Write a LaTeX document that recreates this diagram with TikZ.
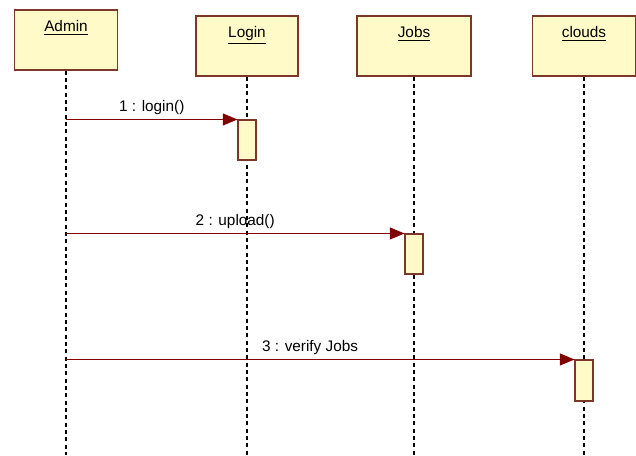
\documentclass[tikz,border=0pt]{standalone}
\usepackage{fontspec}
\setmainfont{Liberation Sans}
\usepackage{tikz}
\usetikzlibrary{arrows.meta,positioning}

\definecolor{umlfill}{RGB}{255,250,200}
\definecolor{umledge}{RGB}{125,55,40}
\definecolor{msgred}{RGB}{128,0,0}

\begin{document}
\begin{tikzpicture}[
  x=0.75pt, y=-0.75pt,
  >={Triangle[length=11pt,width=9pt]},
  every node/.style={font=\fontsize{11.5}{13}\selectfont},
  object/.style={draw=umledge, line width=1pt, fill=umlfill, minimum height=45pt, inner sep=0pt,
    label={[anchor=north, yshift=-5pt]north:\underline{#1}}},
  activation/.style={draw=umledge, line width=.8pt, fill=umlfill, minimum width=13.5pt, inner sep=0pt},
  lifeline/.style={line width=.8pt, dash pattern=on 3pt off 2.5pt},
  msg/.style={->, draw=msgred, fill=msgred, line width=.9pt}
]
\useasboundingbox (0,0) rectangle (636,455);

% objects
\node[object=Admin, minimum width=77pt] (admin) at (66,40) {};
\node[object=Login, minimum width=76.5pt] (login) at (247,46) {};
\node[object=Jobs, minimum width=85.5pt] (jobs) at (414,46) {};
\node[object=clouds, minimum width=77pt] (clouds) at (584,46) {};

% lifelines
\coordinate (admin-end) at (66,455);
\coordinate (login-end) at (247,455);
\coordinate (jobs-end) at (414,455);
\coordinate (clouds-end) at (584,455);
\draw[lifeline] (admin) -- (admin-end);
\draw[lifeline] (login) -- (login-end);
\draw[lifeline] (jobs) -- (jobs-end);
\draw[lifeline] (clouds) -- (clouds-end);

% activations
\node[activation, minimum height=30pt] (act1) at (247,140) {};
\node[activation, minimum height=30pt] (act2) at (414,254) {};
\node[activation, minimum height=30.75pt] (act3) at (584,380.5) {};

% messages
\draw[msg] (admin |- act1.north) -- node[above, pos=.5, text=black]{1 : login()} (act1.north west);
\draw[msg] (admin |- act2.north) -- node[above, pos=.5, text=black]{2 : upload()} (act2.north west);
\draw[msg] (admin |- act3.north) -- node[above, pos=.48, text=black]{3 : verify Jobs} (act3.north west);
\end{tikzpicture}
\end{document}
